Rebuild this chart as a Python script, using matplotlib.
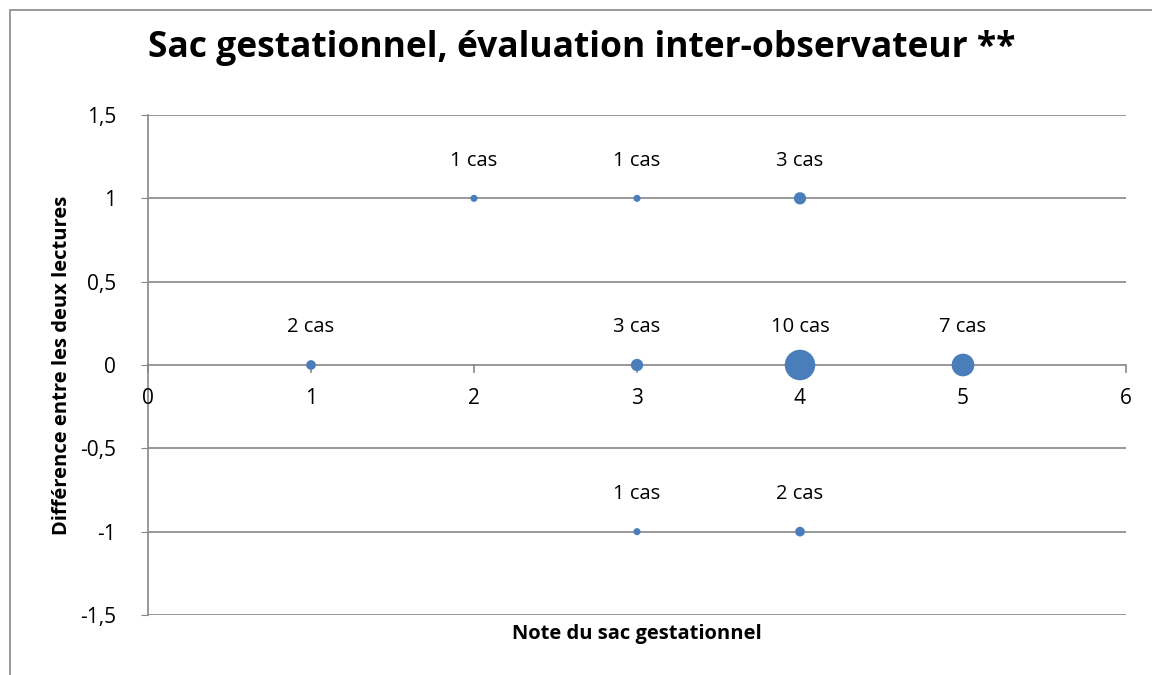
import matplotlib.pyplot as plt
from matplotlib.patches import Rectangle

# Bubble data (Excel-style bubble chart)
notes = [2, 3, 4, 1, 3, 4, 5, 3, 4]
differences = [1, 1, 1, 0, 0, 0, 0, -1, -1]
cases = [1, 1, 3, 2, 3, 10, 7, 1, 2]
x_ticks = [0, 1, 2, 3, 4, 5, 6]
y_ticks = [-1.5, -1, -0.5, 0, 0.5, 1, 1.5]
y_tick_labels = ['-1,5', '-1', '-0,5', '0', '0,5', '1', '1,5']

plt.rcParams['font.family'] = ['Open Sans', 'DejaVu Sans']

fig = plt.figure(figsize=(11.52, 6.75), dpi=100)
ax = fig.add_axes([148 / 1152, 1 - 615 / 675, (1126 - 148) / 1152, 500 / 675])

grid_col = '#868686'
blue = '#4a7ebb'

# bubble diameter in pixels, roughly linear in the number of cases
diam_px = [4.5 + 2.6 * c for c in cases]
sizes = [(d * 0.72) ** 2 for d in diam_px]
ax.scatter(notes, differences, s=sizes, color=blue, zorder=3, linewidths=0)

for x, y, c in zip(notes, differences, cases):
    ax.annotate(f'{c} cas', (x, y), xytext=(0, 27), textcoords='offset points',
                ha='center', va='center', fontsize=14.5, color='black')

ax.set_xlim(0, 6)
ax.set_ylim(-1.5, 1.5)
ax.set_xticks(x_ticks)
ax.set_yticks(y_ticks)
ax.set_yticklabels(y_tick_labels)

for y in y_ticks:
    ax.axhline(y, color=grid_col, lw=1.2, zorder=1)

for s in ['top', 'right', 'bottom']:
    ax.spines[s].set_visible(False)
ax.spines['left'].set_color(grid_col)
ax.spines['left'].set_linewidth(1.2)

# x axis crosses at y = 0
for x in x_ticks:
    ax.plot([x, x], [0, -0.04], color=grid_col, lw=1.2, zorder=1, clip_on=False)
ax.tick_params(axis='x', length=0, labelbottom=False)
for x in x_ticks:
    ax.text(x, -0.2, str(x), ha='center', va='center', fontsize=15)

ax.tick_params(axis='y', length=5, color=grid_col, labelsize=15, pad=18)

ax.set_xlabel('Note du sac gestationnel', fontsize=14.5, fontweight='bold')
ax.set_ylabel('Différence entre les deux lectures', fontsize=14.5, fontweight='bold')
ax.xaxis.set_label_coords(0.5, -0.018)
ax.yaxis.set_label_coords(-0.078, 0.5)

fig.text(582 / 1152, 1 - 48 / 675, 'Sac gestationnel, évaluation inter-observateur **',
         ha='center', va='center', fontsize=25.5, fontweight='bold')

# chart frame
fig.patches.append(Rectangle((10 / 1152, -0.1), 1.2, 1 - 10 / 675 + 0.1, transform=fig.transFigure,
                             fill=False, edgecolor='#878787', lw=1.2))

fig.savefig('out.png', dpi=100)
